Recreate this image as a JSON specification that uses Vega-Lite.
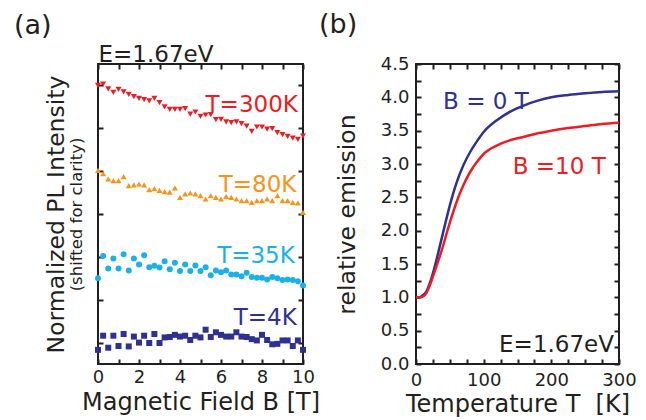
{
  "$schema": "https://vega.github.io/schema/vega-lite/v6.json",
  "padding": {"left": 13, "top": 10, "right": 5, "bottom": 0},
  "background": "white",
  "spacing": 113,
  "bounds": "flush",
  "resolve": {"scale": {"color": "independent", "shape": "independent"}},
  "config": {
    "font": "DejaVu Sans",
    "view": {"stroke": "#231F20", "strokeWidth": 2},
    "axis": {
      "domain": false, "grid": false, "tickColor": "#231F20", "tickWidth": 2, "tickSize": -5,
      "labelColor": "#231F20", "labelFontSize": 18, "labelFlush": false, "labelFont": "DejaVu Sans",
      "titleColor": "#231F20", "titleFontSize": 24, "titleFontWeight": "normal", "titleFont": "DejaVu Sans",
      "minExtent": 0, "maxExtent": 300
    },
    "title": {"fontWeight": "normal", "fontSize": 27, "color": "#231F20", "anchor": "start", "frame": "group"}
  },
  "hconcat": [
    {
      "width": 205,
      "height": 300,
      "title": {"text": "(a)", "dx": -84, "offset": 3},
      "layer": [
        {
          "data": {"name": "pl"},
          "transform": [
            {"fold": ["T=300K", "T=80K", "T=35K", "T=4K"], "as": ["series", "v"]},
            {"filter": "datum.series === 'T=300K' || datum.series === 'T=80K'"}
          ],
          "mark": {"type": "point", "filled": true, "size": 36, "opacity": 1, "clip": false},
          "encoding": {
            "x": {"field": "B", "type": "quantitative", "scale": {"domain": [0, 10], "nice": false, "zero": false},
              "axis": {"orient": "bottom", "values": [0,1,2,3,4,5,6,7,8,9,10], "labelExpr": "datum.value % 2 === 0 ? datum.label : ''", "labelPadding": 9, "title": "Magnetic Field B [T]", "titlePadding": 4}},
            "y": {"field": "v", "type": "quantitative", "scale": {"domain": [0, 7], "nice": false, "zero": false},
              "axis": {"orient": "left", "values": [0.5,1.5,2.5,3.5,4.5,5.5,6.5], "labels": false, "title": "Normalized PL Intensity", "titleFontSize": 23.5, "titlePadding": 29}},
            "color": {"field": "series", "type": "nominal", "legend": null,
              "scale": {"domain": ["T=300K", "T=80K", "T=35K", "T=4K"], "range": ["#ED1C24", "#F7941D", "#1BB1E7", "#2E3192"]}},
            "shape": {"field": "series", "type": "nominal", "legend": null,
              "scale": {"domain": ["T=300K", "T=80K", "T=35K", "T=4K"], "range": ["triangle-down", "triangle-up", "circle", "square"]}}
          }
        },
        {
          "data": {"name": "pl"},
          "transform": [
            {"fold": ["T=300K", "T=80K", "T=35K", "T=4K"], "as": ["series", "v"]},
            {"filter": "datum.series === 'T=35K' || datum.series === 'T=4K'"}
          ],
          "mark": {"type": "point", "filled": true, "size": 36, "opacity": 1, "clip": false},
          "encoding": {
            "x": {"field": "B", "type": "quantitative", "scale": {"domain": [0, 10], "nice": false, "zero": false}, "axis": null},
            "y": {"field": "v", "type": "quantitative", "scale": {"domain": [0, 7], "nice": false, "zero": false},
              "axis": {"orient": "left", "ticks": false, "labels": false, "title": "(shifted for clarity)", "titleFontSize": 16.5, "titlePadding": 14}},
            "color": {"field": "series", "type": "nominal", "legend": null,
              "scale": {"domain": ["T=300K", "T=80K", "T=35K", "T=4K"], "range": ["#ED1C24", "#F7941D", "#1BB1E7", "#2E3192"]}},
            "shape": {"field": "series", "type": "nominal", "legend": null,
              "scale": {"domain": ["T=300K", "T=80K", "T=35K", "T=4K"], "range": ["triangle-down", "triangle-up", "circle", "square"]}}
          }
        },
        {
          "data": {"values": [
            {"x": 9.75, "y": 5.88, "label": "T=300K"},
            {"x": 9.68, "y": 4.02, "label": "T=80K"},
            {"x": 9.6, "y": 2.35, "label": "T=35K"},
            {"x": 9.7, "y": 0.91, "label": "T=4K"}
          ]},
          "mark": {"type": "text", "align": "right", "baseline": "alphabetic", "fontSize": 23},
          "encoding": {
            "x": {"field": "x", "type": "quantitative", "scale": {"domain": [0, 10], "nice": false, "zero": false},
              "axis": {"orient": "top", "values": [0,1,2,3,4,5,6,7,8,9,10], "labels": false, "title": "E=1.67eV", "titleFontSize": 23, "titleAnchor": "start", "titleBaseline": "alphabetic", "titlePadding": 2}},
            "y": {"field": "y", "type": "quantitative", "scale": {"domain": [0, 7], "nice": false, "zero": false},
              "axis": {"orient": "right", "values": [0.5,1.5,2.5,3.5,4.5,5.5,6.5], "labels": false, "title": null}},
            "text": {"field": "label"},
            "color": {"field": "label", "type": "nominal", "legend": null,
              "scale": {"domain": ["T=300K", "T=80K", "T=35K", "T=4K"], "range": ["#ED1C24", "#F7941D", "#1BB1E7", "#2E3192"]}}
          }
        }
      ],
      "resolve": {"axis": {"x": "independent", "y": "independent"}}
    },
    {
      "width": 203,
      "height": 300,
      "title": {"text": "(b)", "dx": -97, "offset": 16},
      "layer": [
        {
          "data": {"name": "curves"},
          "transform": [{"fold": ["B = 0 T", "B =10 T"], "as": ["series", "v"]}],
          "mark": {"type": "line", "strokeWidth": 2.5, "interpolate": "monotone"},
          "encoding": {
            "x": {"field": "T", "type": "quantitative", "scale": {"domain": [0, 300], "nice": false, "zero": false},
              "axis": {"orient": "bottom", "values": [0,25,50,75,100,125,150,175,200,225,250,275,300], "labelExpr": "datum.value % 100 === 0 ? datum.label : ''", "labelPadding": 12, "title": "Temperature T\u00a0 [K]", "titlePadding": 3}},
            "y": {"field": "v", "type": "quantitative", "scale": {"domain": [0, 4.5], "nice": false, "zero": false},
              "axis": {"orient": "left", "values": [0,0.25,0.5,0.75,1,1.25,1.5,1.75,2,2.25,2.5,2.75,3,3.25,3.5,3.75,4,4.25,4.5], "labelExpr": "(datum.value * 4) % 2 === 0 ? format(datum.value, '.1f') : ''", "labelPadding": 12, "title": "relative emission", "titleFontSize": 23.5, "titlePadding": 21}},
            "color": {"field": "series", "type": "nominal", "legend": null,
              "scale": {"domain": ["B = 0 T", "B =10 T", "E=1.67eV"], "range": ["#2E3192", "#ED1C24", "#231F20"]}}
          }
        },
        {
          "data": {"values": [
            {"x": 40, "y": 3.825, "label": "B = 0 T"},
            {"x": 143, "y": 2.85, "label": "B =10 T"}
          ]},
          "mark": {"type": "text", "align": "left", "baseline": "alphabetic", "fontSize": 23},
          "encoding": {
            "x": {"field": "x", "type": "quantitative", "scale": {"domain": [0, 300], "nice": false, "zero": false},
              "axis": {"orient": "top", "values": [0,25,50,75,100,125,150,175,200,225,250,275,300], "labels": false, "title": null}},
            "y": {"field": "y", "type": "quantitative", "scale": {"domain": [0, 4.5], "nice": false, "zero": false},
              "axis": {"orient": "right", "values": [0,0.25,0.5,0.75,1,1.25,1.5,1.75,2,2.25,2.5,2.75,3,3.25,3.5,3.75,4,4.25,4.5], "labels": false, "title": null}},
            "text": {"field": "label"},
            "color": {"field": "label", "type": "nominal", "legend": null,
              "scale": {"domain": ["B = 0 T", "B =10 T", "E=1.67eV"], "range": ["#2E3192", "#ED1C24", "#231F20"]}}
          }
        },
        {
          "data": {"values": [
            {"x": 292.6, "y": 0.185, "label": "E=1.67eV"}
          ]},
          "mark": {"type": "text", "align": "right", "baseline": "alphabetic", "fontSize": 23},
          "encoding": {
            "x": {"field": "x", "type": "quantitative", "scale": {"domain": [0, 300], "nice": false, "zero": false}, "axis": null},
            "y": {"field": "y", "type": "quantitative", "scale": {"domain": [0, 4.5], "nice": false, "zero": false}, "axis": null},
            "text": {"field": "label"},
            "color": {"field": "label", "type": "nominal", "legend": null,
              "scale": {"domain": ["B = 0 T", "B =10 T", "E=1.67eV"], "range": ["#2E3192", "#ED1C24", "#231F20"]}}
          }
        }
      ],
      "resolve": {"axis": {"x": "independent", "y": "independent"}}
    }
  ],
  "datasets": {
    "pl": [
      {"B": 0, "T=300K": 6.50, "T=80K": 4.52, "T=35K": 2.00, "T=4K": 0.33},
      {"B": 0.25, "T=300K": 6.53, "T=80K": 4.44, "T=35K": 2.52, "T=4K": 0.66},
      {"B": 0.5, "T=300K": 6.42, "T=80K": 4.32, "T=35K": 2.23, "T=4K": 0.38},
      {"B": 0.75, "T=300K": 6.34, "T=80K": 4.28, "T=35K": 2.46, "T=4K": 0.66},
      {"B": 1, "T=300K": 6.41, "T=80K": 4.28, "T=35K": 2.23, "T=4K": 0.42},
      {"B": 1.25, "T=300K": 6.35, "T=80K": 4.37, "T=35K": 2.56, "T=4K": 0.70},
      {"B": 1.5, "T=300K": 6.29, "T=80K": 4.16, "T=35K": 2.18, "T=4K": 0.41},
      {"B": 1.75, "T=300K": 6.24, "T=80K": 4.18, "T=35K": 2.46, "T=4K": 0.64},
      {"B": 2, "T=300K": 6.20, "T=80K": 4.20, "T=35K": 2.32, "T=4K": 0.50},
      {"B": 2.25, "T=300K": 6.17, "T=80K": 4.18, "T=35K": 2.54, "T=4K": 0.66},
      {"B": 2.5, "T=300K": 6.14, "T=80K": 4.07, "T=35K": 2.26, "T=4K": 0.49},
      {"B": 2.75, "T=300K": 6.20, "T=80K": 4.09, "T=35K": 2.29, "T=4K": 0.70},
      {"B": 3, "T=300K": 6.10, "T=80K": 4.05, "T=35K": 2.25, "T=4K": 0.49},
      {"B": 3.25, "T=300K": 6.00, "T=80K": 4.02, "T=35K": 2.40, "T=4K": 0.62},
      {"B": 3.5, "T=300K": 5.94, "T=80K": 4.01, "T=35K": 2.21, "T=4K": 0.63},
      {"B": 3.75, "T=300K": 5.94, "T=80K": 4.11, "T=35K": 2.36, "T=4K": 0.68},
      {"B": 4, "T=300K": 5.94, "T=80K": 3.89, "T=35K": 2.17, "T=4K": 0.64},
      {"B": 4.25, "T=300K": 5.96, "T=80K": 3.97, "T=35K": 2.32, "T=4K": 0.66},
      {"B": 4.5, "T=300K": 5.83, "T=80K": 3.99, "T=35K": 2.17, "T=4K": 0.56},
      {"B": 4.75, "T=300K": 5.88, "T=80K": 3.97, "T=35K": 2.30, "T=4K": 0.66},
      {"B": 5, "T=300K": 5.78, "T=80K": 3.93, "T=35K": 2.17, "T=4K": 0.62},
      {"B": 5.25, "T=300K": 5.81, "T=80K": 3.85, "T=35K": 2.26, "T=4K": 0.80},
      {"B": 5.5, "T=300K": 5.82, "T=80K": 3.93, "T=35K": 2.07, "T=4K": 0.63},
      {"B": 5.75, "T=300K": 5.70, "T=80K": 3.89, "T=35K": 2.18, "T=4K": 0.74},
      {"B": 6, "T=300K": 5.71, "T=80K": 3.85, "T=35K": 2.14, "T=4K": 0.68},
      {"B": 6.25, "T=300K": 5.65, "T=80K": 3.91, "T=35K": 2.18, "T=4K": 0.64},
      {"B": 6.5, "T=300K": 5.63, "T=80K": 3.89, "T=35K": 2.09, "T=4K": 0.64},
      {"B": 6.75, "T=300K": 5.65, "T=80K": 3.85, "T=35K": 2.09, "T=4K": 0.74},
      {"B": 7, "T=300K": 5.61, "T=80K": 3.81, "T=35K": 2.05, "T=4K": 0.64},
      {"B": 7.25, "T=300K": 5.55, "T=80K": 3.81, "T=35K": 2.13, "T=4K": 0.63},
      {"B": 7.5, "T=300K": 5.43, "T=80K": 3.77, "T=35K": 2.03, "T=4K": 0.58},
      {"B": 7.75, "T=300K": 5.53, "T=80K": 3.81, "T=35K": 2.01, "T=4K": 0.55},
      {"B": 8, "T=300K": 5.53, "T=80K": 3.81, "T=35K": 2.01, "T=4K": 0.68},
      {"B": 8.25, "T=300K": 5.48, "T=80K": 3.85, "T=35K": 1.97, "T=4K": 0.56},
      {"B": 8.5, "T=300K": 5.49, "T=80K": 3.81, "T=35K": 2.03, "T=4K": 0.46},
      {"B": 8.75, "T=300K": 5.40, "T=80K": 3.93, "T=35K": 2.00, "T=4K": 0.47},
      {"B": 9, "T=300K": 5.35, "T=80K": 3.81, "T=35K": 1.96, "T=4K": 0.55},
      {"B": 9.25, "T=300K": 5.31, "T=80K": 3.81, "T=35K": 1.97, "T=4K": 0.55},
      {"B": 9.5, "T=300K": 5.27, "T=80K": 3.77, "T=35K": 1.96, "T=4K": 0.42},
      {"B": 9.75, "T=300K": 5.24, "T=80K": 3.76, "T=35K": 1.93, "T=4K": 0.55},
      {"B": 10, "T=300K": 5.32, "T=80K": 3.54, "T=35K": 1.83, "T=4K": 0.33}
    ],
    "curves": [
      {"T": 0, "B = 0 T": 1.00, "B =10 T": 1.00},
      {"T": 5, "B = 0 T": 1.00, "B =10 T": 1.00},
      {"T": 10, "B = 0 T": 1.03, "B =10 T": 1.01},
      {"T": 15, "B = 0 T": 1.08, "B =10 T": 1.06},
      {"T": 20, "B = 0 T": 1.20, "B =10 T": 1.17},
      {"T": 25, "B = 0 T": 1.36, "B =10 T": 1.31},
      {"T": 30, "B = 0 T": 1.55, "B =10 T": 1.46},
      {"T": 35, "B = 0 T": 1.76, "B =10 T": 1.61},
      {"T": 40, "B = 0 T": 1.97, "B =10 T": 1.77},
      {"T": 45, "B = 0 T": 2.18, "B =10 T": 1.95},
      {"T": 50, "B = 0 T": 2.38, "B =10 T": 2.12},
      {"T": 55, "B = 0 T": 2.56, "B =10 T": 2.28},
      {"T": 60, "B = 0 T": 2.72, "B =10 T": 2.43},
      {"T": 70, "B = 0 T": 2.98, "B =10 T": 2.68},
      {"T": 80, "B = 0 T": 3.18, "B =10 T": 2.88},
      {"T": 90, "B = 0 T": 3.34, "B =10 T": 3.03},
      {"T": 100, "B = 0 T": 3.48, "B =10 T": 3.15},
      {"T": 120, "B = 0 T": 3.66, "B =10 T": 3.28},
      {"T": 140, "B = 0 T": 3.79, "B =10 T": 3.36},
      {"T": 160, "B = 0 T": 3.88, "B =10 T": 3.41},
      {"T": 180, "B = 0 T": 3.95, "B =10 T": 3.46},
      {"T": 200, "B = 0 T": 4.00, "B =10 T": 3.50},
      {"T": 225, "B = 0 T": 4.035, "B =10 T": 3.54},
      {"T": 250, "B = 0 T": 4.06, "B =10 T": 3.57},
      {"T": 275, "B = 0 T": 4.08, "B =10 T": 3.60},
      {"T": 300, "B = 0 T": 4.09, "B =10 T": 3.62}
    ]
  }
}
